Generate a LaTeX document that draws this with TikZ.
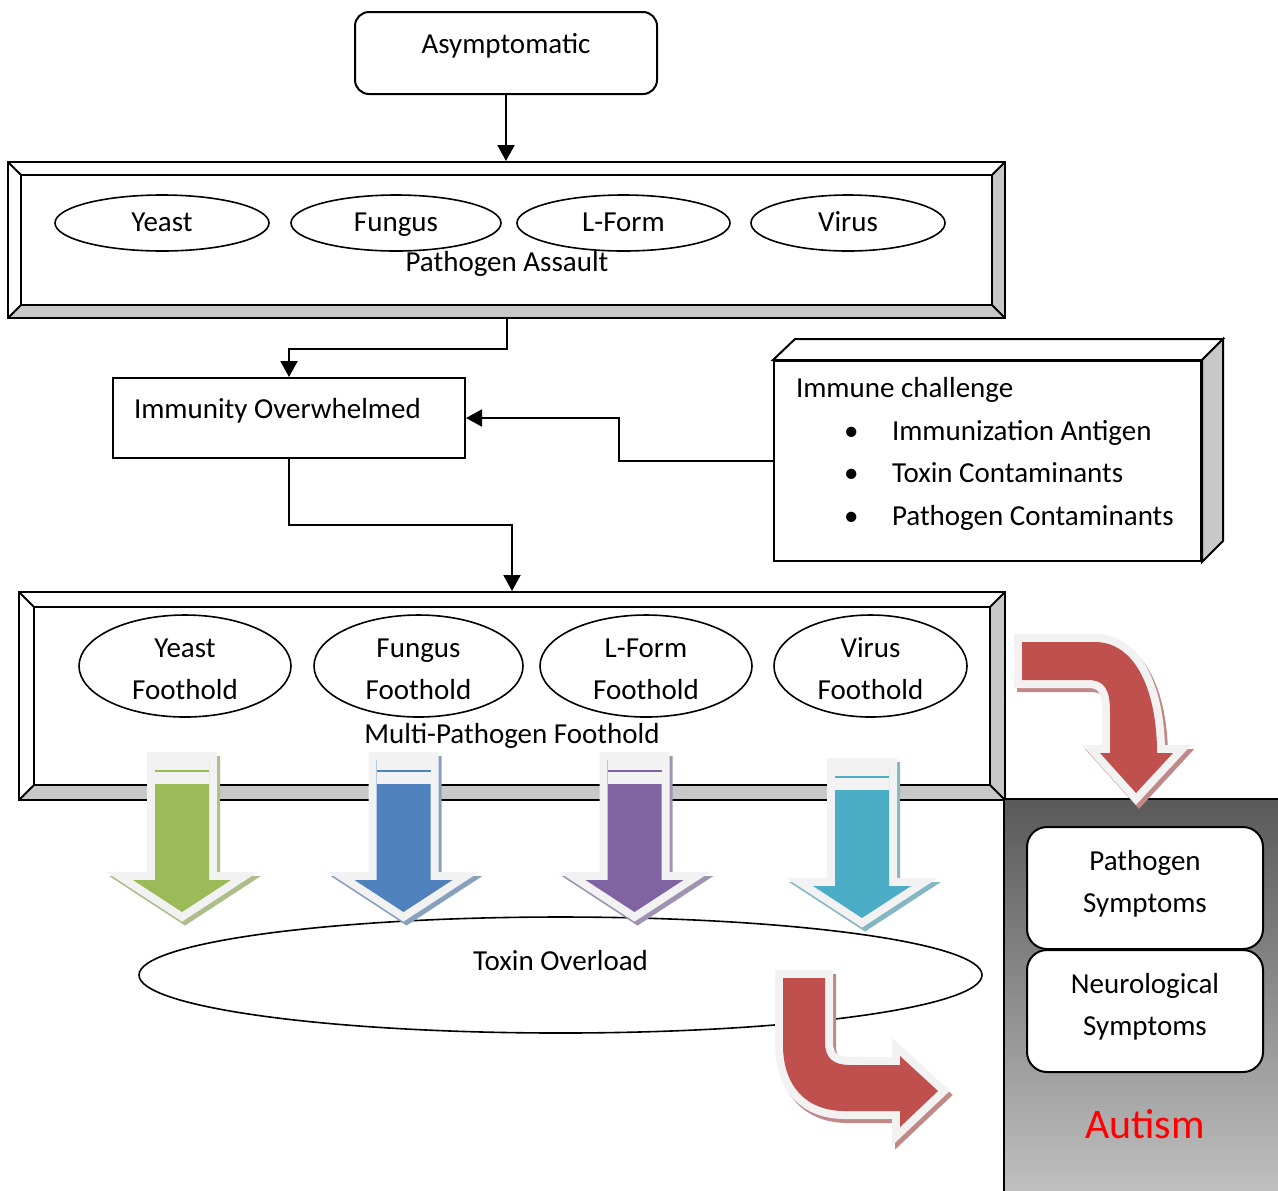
\documentclass[tikz,border=0pt]{standalone}
\usepackage{fontspec}
\setmainfont{Carlito}
\usetikzlibrary{shapes.geometric}
\usetikzlibrary{arrows.meta}
\definecolor{bevelgray}{RGB}{200,200,200}
\definecolor{glow}{RGB}{242,242,242}
\definecolor{olivegreen}{RGB}{155,187,89}
\definecolor{steelblue}{RGB}{79,129,189}
\definecolor{lavender}{RGB}{128,100,162}
\definecolor{aqua}{RGB}{75,172,198}
\definecolor{brick}{RGB}{192,80,77}
\newcommand{\tallstrut}{\rule{0pt}{13pt}}
\tikzset{
  roundbox/.style= {draw, rounded corners=7pt},
  plainbox/.style= {draw},
  bug/.style= {draw, ellipse, line width=0.8pt, inner sep=0pt},
  footbug/.style= {bug, align=center, minimum height=51pt},
  symbox/.style= {draw, rounded corners=10pt, fill=white, minimum width=118pt, minimum height=61pt,
    align=center, execute at end node={\rule[-7pt]{0pt}{7pt}}},
  bevelframe/.style= {draw, inner sep=0pt, path picture={
      \coordinate (bsw) at (path picture bounding box.south west);
      \coordinate (bne) at (path picture bounding box.north east);
      \fill[bevelgray] (bsw) -| (bne) -- ([shift={(-#1,#1)}]bne) |- ([shift={(#1,-#1)}]bsw) -- cycle;
      \draw[line width=1pt] ([shift={(#1,-#1)}]bsw) rectangle ([shift={(-#1,#1)}]bne);
      \draw[line width=1pt] (bsw) -- ++(#1,-#1) (bne) -- ++(-#1,#1)
        (bsw |- bne) -- ++(#1,#1) (bne |- bsw) -- ++(-#1,-#1);
  }},
  link/.style= {-{Triangle[length=8pt,width=8.5pt]}},
  glowarrow/.style= {fill=#1,
    preaction={fill=#1!50!lightgray, draw=#1!50!lightgray, line width=8pt,
      line join=miter, transform canvas={shift={(1.5pt,-2pt)}}},
    preaction={fill=glow, draw=glow, line width=8pt, line join=miter}},
}
% striped block arrow pointing down: x, y offset, colour
\newcommand{\dropblock}[3]{%
  \begin{scope}[shift={(#1,#2)}]
    \path[glowarrow=#3] (-27,760) -- (27,760) -- (27,880) -- (49,880) -- (0,912) -- (-49,880) -- (-27,880) -- cycle;
    \fill[glow] (-27,759) rectangle (27,784);
    \draw[#3] (-27,771) -- (27,771);
  \end{scope}}

\begin{document}
\begin{tikzpicture}[x=0.5pt, y=-0.5pt, line width=1pt,
  every node/.style={font=\fontsize{14.5pt}{21pt}\selectfont}]
  \useasboundingbox (0,0) rectangle (1278,1190);

  \node [roundbox, minimum width=151pt, minimum height=41pt, text height=10pt, text depth=10pt] (asym) at (506,53) {Asymptomatic};

  % pathogen assault
  \node [bevelframe=13, minimum width=498.5pt, minimum height=78pt] (assault) at (506.5,240) {};
  \node [bug, minimum width=107pt, minimum height=28pt, text height=10pt, text depth=1.3pt] (yeast) at (162,223) {Yeast};
  \node [bug, minimum width=105pt, minimum height=28pt, text height=10pt, text depth=1.3pt] (fungus) at (396,223) {Fungus};
  \node [bug, minimum width=106.5pt, minimum height=28pt, text height=10pt, text depth=1.3pt] (lform) at (623.5,223) {L-Form};
  \node [bug, minimum width=97pt, minimum height=28pt, text height=10pt, text depth=1.3pt] (virus) at (848,223) {Virus};
  \node [anchor=base, inner sep=0pt] (assaultlbl) at (507,271) {Pathogen Assault};

  \node [plainbox, minimum width=176pt, minimum height=40pt, inner xsep=10.5pt, text width=155pt, align=flush left, text height=10pt, text depth=10pt] (immunity) at (289,418) {Immunity Overwhelmed};

  % immune challenge box
  \node [plainbox, minimum width=213.5pt, minimum height=100pt] (challenge) at (987.5,461) {};
  \draw [fill=white] (challenge.north west) -- ++(22,-21) -- ([shift={(21,-21)}]challenge.north east) -- (challenge.north east) -- cycle;
  \draw [fill=bevelgray] (challenge.north east) -- ++(21,-21) -- ([shift={(21,-21)}]challenge.south east) -- (challenge.south east) -- cycle;
  \node [anchor=base west, inner sep=0pt] (challengehead) at (795,397) {Immune challenge};
  \node [anchor=base west, inner sep=0pt] (item1) at (843,440) {\makebox[24pt][l]{\textbullet}Immunization Antigen};
  \node [anchor=base west, inner sep=0pt] (item2) at (843,482) {\makebox[24pt][l]{\textbullet}Toxin Contaminants};
  \node [anchor=base west, inner sep=0pt] (item3) at (843,525) {\makebox[24pt][l]{\textbullet}Pathogen Contaminants};

  % multi-pathogen foothold
  \node [bevelframe=15, minimum width=493pt, minimum height=104pt] (foothold) at (512,696) {};
  \node [footbug, minimum width=106pt] (yeastft) at (185,666) {\tallstrut Yeast\\Foothold};
  \node [footbug, minimum width=104.5pt] (fungusft) at (418.5,666) {\tallstrut Fungus\\Foothold};
  \node [footbug, minimum width=106pt] (lformft) at (646,666) {\tallstrut L-Form\\Foothold};
  \node [footbug, minimum width=96.5pt] (virusft) at (870.5,666) {\tallstrut Virus\\Foothold};
  \node [anchor=base, inner sep=0pt] (footholdlbl) at (512,743) {Multi-Pathogen Foothold};

  \node [bug, minimum width=421.5pt, minimum height=58pt, text height=10pt, text depth=15pt] (toxin) at (560.5,975) {Toxin Overload};

  % outcome panel
  \node [top color=black!65, bottom color=black!25, minimum width=136.5pt, minimum height=195pt] (panel) at (1141.5,995) {};
  \draw (panel.south west) -- (panel.north west) -- (panel.north east);
  \node [symbox] (pathsym) at (1145,888) {Pathogen\\Symptoms};
  \node [symbox] (neurosym) at (1145,1011) {Neurological\\Symptoms};
  \node [anchor=base, inner sep=0pt, text=red, font=\fontsize{21pt}{25pt}\selectfont] (autism) at (1145,1138) {Autism};

  \draw [link] (asym.south) -- (asym.south |- assault.north);
  \draw [link] (assault.south) -- ++(0,30) -| (immunity.north);
  \draw [link] (challenge.west) -- ++(-154,0) |- (immunity.east);
  \draw [link] (immunity.south) -- ++(0,66) -| (foothold.north);

  \dropblock{182}{0}{olivegreen}
  \dropblock{403.5}{0}{steelblue}
  \dropblock{634.5}{0}{lavender}
  \dropblock{862}{6}{aqua}

  \path [glowarrow=brick] (1022,642) -- (1095,642) .. controls (1135,642) and (1157,690) .. (1157,753)
    -- (1173,753) -- (1136,793) -- (1100,753) -- (1110,753) -- (1110,712)
    .. controls (1110,690) and (1105,680) .. (1088,680) -- (1022,680) -- cycle;
  \path [glowarrow=brick] (783,978) -- (825,978) -- (825,1042) .. controls (825,1058) and (833,1065) .. (850,1065)
    -- (900,1065) -- (900,1056) -- (938,1091) -- (900,1127) -- (900,1111) -- (845,1111)
    .. controls (805,1111) and (783,1085) .. (783,1045) -- cycle;
\end{tikzpicture}
\end{document}
